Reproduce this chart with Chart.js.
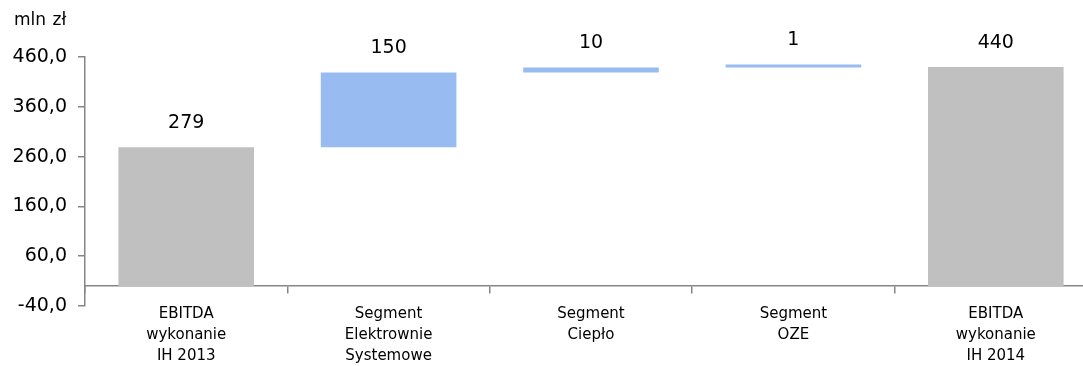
<!DOCTYPE html>
<html lang="pl">
<head>
<meta charset="utf-8">
<title>EBITDA IH 2013 - IH 2014</title>
<script src="https://cdn.jsdelivr.net/npm/chart.js@4.4.1/dist/chart.umd.min.js"></script>
<style>
    html, body { margin: 0; padding: 0; background: #fff; overflow: hidden; }
    #wrap { position: relative; width: 1083px; height: 366px; overflow: hidden; }
    #unit { position: absolute; left: 14px; top: 9px; font: 17px "DejaVu Sans", sans-serif; word-spacing: 1px; color: #000; }
    canvas { position: absolute; left: 0; top: 0; }
</style>
</head>
<body>
<div id="wrap">
    <canvas id="chart" width="1097" height="366"></canvas>
    <div id="unit">mln zł</div>
</div>
<script>
// ─── data ───────────────────────────────────────────────────────────────
const categories = [
    ['EBITDA', 'wykonanie', 'IH 2013'],
    ['Segment', 'Elektrownie', 'Systemowe'],
    ['Segment', 'Ciepło'],
    ['Segment', 'OZE'],
    ['EBITDA', 'wykonanie', 'IH 2014'],
];
const barStart = [0, 279, 429, 439, 0];     // where each bar begins
const barValue = [279, 150, 10, 1, 440];    // bar length = printed label
const yTicks = [-40, 60, 160, 260, 360, 460];

const GREY = '#c0c0c0';
const BLUE = '#98bbf2';
const AXIS = '#868686';
const FONT = '"DejaVu Sans", sans-serif';
const barColors = ['total', 'delta', 'delta', 'delta', 'total'].map(t => t === 'total' ? GREY : BLUE);

// ─── value labels above bars ───────────────────────────────────────────
const valueLabels = {
    id: 'valueLabels',
    afterDatasetsDraw(chart) {
        const {ctx} = chart;
        const meta = chart.getDatasetMeta(0);
        ctx.save();
        ctx.font = `19px ${FONT}`;
        ctx.fillStyle = '#000';
        ctx.textAlign = 'center';
        ctx.textBaseline = 'middle';
        meta.data.forEach((bar, i) => {
            const top = Math.min(bar.y, bar.base);
            ctx.fillText(String(barValue[i]), bar.x, top - 24);
        });
        ctx.restore();
    }
};

new Chart(document.getElementById('chart'), {
    type: 'bar',
    data: {
        labels: categories,
        datasets: [{
            data: barValue.map((v, i) => [barStart[i], barStart[i] + v]),
            backgroundColor: barColors,
            borderWidth: 0,
            barPercentage: 0.67,
            categoryPercentage: 1,
            minBarLength: 3,
        }],
    },
    options: {
        responsive: false,
        animation: false,
        layout: {padding: {top: 57, bottom: 60, left: 0, right: 0}},
        plugins: {legend: {display: false}, tooltip: {enabled: false}},
        scales: {
            x: {
                position: {y: 0},
                offset: true,
                grid: {offset: true, drawOnChartArea: false, drawTicks: true, tickLength: 7, color: AXIS, lineWidth: 1.5},
                border: {display: true, color: AXIS, width: 1.5},
                ticks: {color: '#000', padding: 11, maxRotation: 0, autoSkip: false, font: {family: FONT, size: 15, lineHeight: 1.4}},
            },
            y: {
                min: -40,
                max: 460,
                afterBuildTicks: s => { s.ticks = yTicks.map(v => ({value: v})); },
                afterFit: s => { s.width = 85; },
                grid: {drawOnChartArea: false, drawTicks: true, tickLength: 7, color: AXIS, lineWidth: 1.5},
                border: {display: true, color: AXIS, width: 1.5},
                ticks: {
                    color: '#000',
                    padding: 11,
                    font: {family: FONT, size: 19},
                    callback: v => v.toFixed(1).replace('.', ','),
                },
            },
        },
    },
    plugins: [valueLabels],
});
</script>
</body>
</html>
